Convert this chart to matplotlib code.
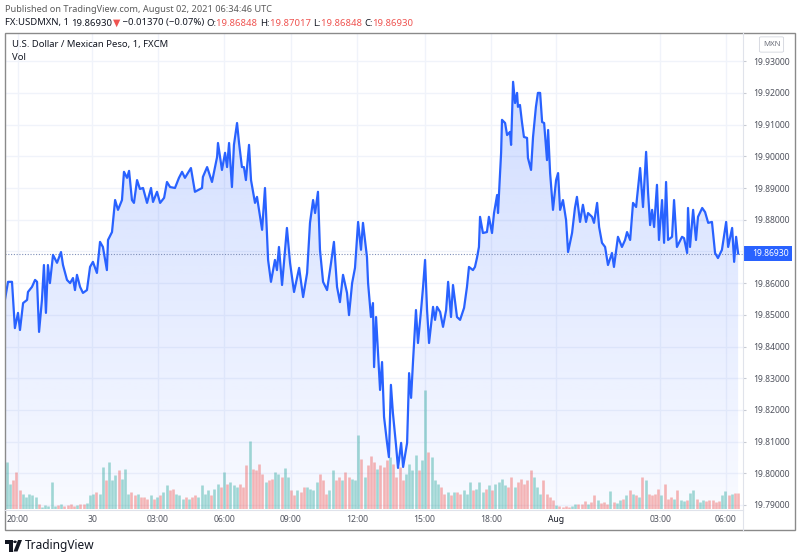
import numpy as np
import matplotlib
matplotlib.use("Agg")
import matplotlib.pyplot as plt
from matplotlib.patches import Rectangle, Polygon, Circle, FancyBboxPatch
from matplotlib.transforms import blended_transform_factory, Affine2D

plt.rcParams['font.family'] = ['Noto Sans', 'DejaVu Sans']

# ---------------- data ----------------
# position along the bar-indexed time axis (units of ~1 trading hour, 0 = 20:00 Jul 29)
t_pos = [-0.59,-0.45,-0.27,-0.14,0.00,0.09,0.23,0.41,0.45,0.63,0.77,0.86,0.95,1.08,1.17,1.26,1.35,1.44,1.58,1.76,
         1.94,2.03,2.21,2.35,2.48,2.57,2.66,2.80,2.93,3.11,3.25,3.38,3.56,3.70,3.83,4.01,4.06,4.24,4.38,4.51,
         4.69,4.78,4.92,5.01,5.14,5.23,5.37,5.50,5.64,5.82,6.00,6.09,6.27,6.41,6.59,6.72,6.86,7.08,7.26,
         7.40,7.53,7.80,7.98,8.30,8.34,8.53,8.75,8.98,9.02,9.20,9.34,9.43,9.52,9.65,9.74,9.88,9.97,10.10,10.19,
         10.28,10.42,10.51,10.69,10.78,10.92,11.01,11.14,11.28,11.41,11.59,11.68,11.77,11.91,12.13,12.27,12.45,12.68,12.86,13.04,
         13.17,13.31,13.40,13.53,13.62,13.76,13.94,14.12,14.25,14.39,14.52,14.66,14.84,14.93,
         15.07,15.20,15.34,15.47,15.56,15.74,15.79,15.92,16.01,16.06,16.15,16.33,16.42,16.51,16.64,16.73,16.82,16.91,17.05,17.14,
         17.28,17.37,17.55,17.64,17.73,17.82,17.95,18.04,18.18,18.27,18.36,18.45,18.54,18.72,18.81,18.90,19.04,19.17,19.31,19.40,
         19.53,19.62,19.80,19.94,20.12,20.25,20.34,20.52,20.61,20.70,20.79,
         20.84,20.97,21.15,21.24,21.38,21.47,21.61,21.65,21.79,21.83,21.97,22.06,22.19,22.24,22.33,22.42,22.51,22.55,22.64,22.73,
         22.82,22.96,23.00,23.14,23.23,23.36,23.45,23.55,23.64,23.73,23.86,23.91,24.00,24.13,24.27,24.36,24.45,24.58,24.72,24.81,
         24.99,25.12,25.21,25.35,25.48,25.62,25.71,25.89,25.98,26.12,26.21,26.34,26.48,26.61,26.79,26.88,27.06,27.24,27.38,27.47,
         27.61,27.74,27.88,27.92,28.06,28.19,28.33,28.42,28.51,28.60,28.69,28.82,28.91,29.05,29.14,29.23,29.32,29.50,29.59,29.72,
         29.95,30.04,30.18,30.22,30.31,30.45,30.58,30.67,30.86,30.99,31.13,31.30,31.44,31.57,31.75,31.94,32.03,32.21,32.30,32.39,32.48]

price = [19.8547,19.8604,19.8604,19.8458,19.8506,19.8452,19.8537,19.8547,19.8572,19.8588,19.8610,19.8604,19.8446,19.8547,19.8657,
         19.8506,19.8657,19.8600,19.8689,19.8664,19.8698,19.8657,19.8610,19.8600,19.8616,19.8578,19.8626,19.8588,19.8569,19.8578,
         19.8651,19.8667,19.8632,19.8730,19.8714,19.8641,19.8736,19.8761,19.8862,19.8831,19.8862,19.8951,19.8932,19.8954,19.8862,
         19.8853,19.8925,19.8897,19.8900,19.8853,19.8900,19.8856,19.8888,19.8853,19.8869,19.8919,19.8903,19.8900,19.8932,
         19.8951,19.8932,19.8963,19.8888,19.8900,19.8935,19.8966,19.8919,19.8998,19.9042,19.8957,19.9011,19.8966,19.9042,19.8903,
         19.9036,19.9105,19.9042,19.8966,19.8966,19.8925,19.9036,19.8925,19.8853,19.8872,19.8809,19.8768,19.8900,19.8673,19.8604,
         19.8673,19.8641,19.8714,19.8594,19.8774,19.8664,19.8572,19.8648,19.8556,19.8632,19.8790,19.8862,19.8821,19.8888,19.8705,
         19.8604,19.8578,19.8664,19.8730,19.8588,19.8540,19.8626,19.8569,19.8499,
         19.8600,19.8648,19.8793,19.8705,19.8790,19.8682,19.8600,19.8493,19.8537,19.8335,19.8493,19.8263,19.8351,19.8178,19.8099,
         19.8051,19.8279,19.8190,19.8089,19.8017,19.8096,19.8020,19.8096,19.8316,19.8238,19.8357,19.8515,19.8411,19.8515,19.8588,
         19.8673,19.8515,19.8411,19.8525,19.8484,19.8525,19.8509,19.8462,19.8515,19.8604,19.8493,19.8594,19.8493,19.8484,19.8522,
         19.8588,19.8651,19.8641,19.8651,19.8679,19.8714,
         19.8809,19.8758,19.8761,19.8809,19.8758,19.8821,19.8878,19.8821,19.9011,19.9115,19.9105,19.9067,19.9077,19.9036,19.9235,
         19.9168,19.9200,19.9156,19.9162,19.9108,19.9061,19.9058,19.8995,19.8957,19.9061,19.9156,19.9200,19.9200,19.9108,19.9105,
         19.8988,19.9083,19.8947,19.8831,19.8925,19.8947,19.8831,19.8862,19.8799,19.8698,19.8758,19.8837,19.8872,19.8793,19.8847,
         19.8793,19.8821,19.8809,19.8790,19.8853,19.8777,19.8727,19.8714,19.8657,19.8695,19.8651,19.8746,19.8714,19.8736,19.8761,
         19.8736,19.8853,19.8840,19.8869,19.8963,19.8840,19.9014,19.8884,19.8783,19.8831,19.8777,19.8910,19.8736,19.8862,19.8727,
         19.8919,19.8736,19.8746,19.8862,19.8714,19.8746,19.8742,19.8695,19.8837,19.8714,19.8831,19.8736,19.8809,19.8837,19.8824,
         19.8790,19.8793,19.8695,19.8679,19.8705,19.8793,19.8714,19.8774,19.8667,19.8746,19.8693]

# volume (relative units), evenly spaced bars from the start to the end of the session
volume = [47,25,29,37,19,15,12,15,14,12,5,2,4,3,27,3,4,5,3,4,5,3,4,5,5,6,14,15,17,15,42,29,47,29,34,39,30,40,15,17,
          14,15,12,12,10,14,10,12,14,17,24,19,20,15,14,10,12,10,12,14,12,24,15,19,14,20,25,22,37,25,27,24,22,25,22,44,
          68,40,39,45,35,27,29,30,37,35,32,41,32,19,14,19,17,22,22,20,19,27,35,29,15,19,39,29,32,29,37,32,30,29,74,50,
          32,44,53,47,40,44,
          42,49,52,45,32,42,29,35,45,39,54,39,49,119,57,52,29,25,22,15,17,14,17,17,15,19,15,27,19,20,27,17,20,24,19,25,
          27,30,24,22,32,22,27,30,25,29,39,32,22,15,29,15,12,9,4,3,2,3,2,3,5,5,5,8,5,7,14,9,6,7,5,18,7,6,9,10,14,19,15,
          14,12,32,29,15,14,15,20,14,25,10,12,10,19,9,8,9,16,19,10,7,9,8,9,9,7,8,14,18,14,15,16,16]

price_ticks = [19.93, 19.92, 19.91, 19.90, 19.89, 19.88, 19.87, 19.86, 19.85, 19.84, 19.83, 19.82, 19.81, 19.80, 19.79]
time_tick_pos = [0, 3.35, 6.31, 9.31, 12.31, 15.30, 18.34, 21.32, 24.25, 28.96, 31.92]
time_tick_labels = ['20:00', '30', '03:00', '06:00', '09:00', '12:00', '15:00', '18:00', 'Aug', '03:00', '06:00']
last_price = 19.86930

header1 = "Published on TradingView.com, August 02, 2021 06:34:46 UTC"
symbol_title = "U.S. Dollar / Mexican Peso, 1, FXCM"

# ---------------- layout ----------------
W, H = 800, 558
fig = plt.figure(figsize=(W / 100, H / 100), dpi=100)
fig.patch.set_facecolor('white')

def fx(x):
    return x / W

def fy(y):
    return 1 - y / H

L, R, T, B = 5, 743, 33, 509
ax = fig.add_axes([fx(L), fy(B), (R - L) / W, (B - T) / H])
ax.set_facecolor('white')

t = np.array(t_pos)
p = np.array(price)
vol = np.array(volume, dtype=float)

xmin, xmax = -0.586, 32.70
ymin = 19.79 - 4 / 3170
ymax = 19.79 + (505 - 33) / 3170
ax.set_xlim(xmin, xmax)
ax.set_ylim(ymin, ymax)
ax.autoscale(False)

# grid
for yv in price_ticks:
    ax.axhline(yv, color='#f0f3fa', lw=1.0, zorder=0.5)
for xv in time_tick_pos:
    ax.axvline(xv, color='#f0f3fa', lw=1.0, zorder=0.5)

# gradient area fill below the line
verts = np.vstack([np.column_stack([t, p]), [[t[-1], ymin], [t[0], ymin]]])
poly = Polygon(verts, closed=True, facecolor='none', edgecolor='none', transform=ax.transData)
ax.add_patch(poly)
n = 256
grad = np.zeros((n, 1, 4))
grad[:, 0, 0] = 41 / 255
grad[:, 0, 1] = 98 / 255
grad[:, 0, 2] = 255 / 255
grad[:, 0, 3] = np.linspace(0.03, 0.24, n)
im = ax.imshow(grad, extent=[xmin, xmax, ymin, ymax], origin='lower', aspect='auto', zorder=1,
               interpolation='bilinear')
im.set_clip_path(poly)

# volume bars
vmax_lim = vol.max() * 4.0
vtrans = blended_transform_factory(ax.transData, Affine2D().scale(1, 1 / vmax_lim) + ax.transAxes)
vx = np.linspace(-0.5, 32.48, len(vol))
dx = vx[1] - vx[0]
p_now = np.interp(vx, t, p)
p_prev = np.interp(vx - dx, t, p)
up = p_now >= p_prev
cols = np.where(up, '#26a69a', '#ef5350')
ax.vlines(vx, 0, vol, colors=cols, linewidth=1.9, alpha=0.42, transform=vtrans, zorder=2)

# last price dotted line
ax.axhline(last_price, color='#7f8fb8', lw=0.8, ls=(0, (1, 1.5)), zorder=2.5)

# price line
ax.plot(t, p, color='#2962ff', lw=1.6, zorder=3, solid_joinstyle='round')

# axes styling
for s in ax.spines.values():
    s.set_visible(False)
ax.yaxis.tick_right()
ax.set_yticks(price_ticks)
ax.set_yticklabels([f"{v:.5f}" for v in price_ticks])
ax.tick_params(axis='y', length=2.5, width=0.8, color='#c8cbd3', pad=5, labelsize=6.2, labelcolor='#50535e')
ax.set_xticks(time_tick_pos)
ax.set_xticklabels(time_tick_labels)
ax.tick_params(axis='x', length=0, pad=4.5, labelsize=6.2, labelcolor='#50535e')
for lab in ax.get_xticklabels():
    if lab.get_text() == 'Aug':
        lab.set_fontweight('bold')
        lab.set_color('#131722')

# separators and frame
fig.add_artist(plt.Line2D([fx(R), fx(R)], [fy(33), fy(530)], color='#e0e3eb', lw=0.8))
fig.add_artist(plt.Line2D([fx(5), fx(R)], [fy(510), fy(510)], color='#e0e3eb', lw=0.8))
fig.add_artist(Rectangle((fx(5), fy(530)), (795 - 5) / W, (530 - 33) / H, transform=fig.transFigure,
                         facecolor='none', edgecolor='#8a8a8a', lw=1.0))

# current price label
ybox = 253.5
fig.add_artist(Rectangle((fx(R), fy(ybox + 7.5)), (792 - R) / W, 15 / H, transform=fig.transFigure,
                         facecolor='#2962ff', edgecolor='none'))
fig.text(fx(752), fy(ybox), f"{last_price:.5f}", color='white', fontsize=6.2, va='center', ha='left')

# MXN label
fig.add_artist(FancyBboxPatch((fx(761), fy(51)), 21 / W, 13 / H, boxstyle='round,pad=0.002',
                              transform=fig.transFigure, facecolor='white', edgecolor='#d1d4dc', lw=0.6))
fig.text(fx(771.5), fy(44.5), 'MXN', color='#6a6d78', fontsize=5.6, ha='center', va='center')

# header texts
fig.text(fx(5), fy(9), header1, color='#5a5a5a', fontsize=6.6, va='center', ha='left')

pieces = [("FX:USDMXN, 1 ", 'bold', '#131722'),
          ("19.86930", 'normal', '#131722'),
          ("\u25bc", 'normal', '#ef5350'),
          (" \u22120.01370 (\u22120.07%) ", 'normal', '#131722'),
          ("O:", 'bold', '#131722'), ("19.86848 ", 'normal', '#ef5350'),
          ("H:", 'bold', '#131722'), ("19.87017 ", 'normal', '#ef5350'),
          ("L:", 'bold', '#131722'), ("19.86848 ", 'normal', '#ef5350'),
          ("C:", 'bold', '#131722'), ("19.86930", 'normal', '#ef5350')]
renderer = fig.canvas.get_renderer()
xcur = fx(5)
for txt, wgt, col in pieces:
    tt = fig.text(xcur, fy(23), txt, color=col, fontsize=6.85, fontweight=wgt, va='center', ha='left')
    bb = tt.get_window_extent(renderer=renderer)
    xcur += bb.width / W

fig.text(fx(12), fy(44), symbol_title, color='#131722', fontsize=6.85, fontweight='bold', va='center', ha='left')
fig.text(fx(12), fy(57), 'Vol', color='#131722', fontsize=6.85, va='center', ha='left')

# TradingView logo
lc = '#131722'
fig.add_artist(Rectangle((fx(5), fy(543.5)), 7.5 / W, 3.5 / H, transform=fig.transFigure, facecolor=lc, edgecolor='none'))
fig.add_artist(Rectangle((fx(9), fy(551.5)), 3.5 / W, 11.5 / H, transform=fig.transFigure, facecolor=lc, edgecolor='none'))
fig.add_artist(Circle((fx(15), fy(541.8)), 1.8 / W, transform=fig.transFigure, facecolor=lc, edgecolor='none'))
fig.add_artist(Polygon([(fx(13.5), fy(551.5)), (fx(17.5), fy(551.5)), (fx(22), fy(540)), (fx(18), fy(540))],
                       closed=True, transform=fig.transFigure, facecolor=lc, edgecolor='none'))
fig.text(fx(25), fy(546), 'TradingView', color=lc, fontsize=8.6, fontweight='bold', va='center', ha='left')

fig.savefig('out.png', dpi=100, facecolor='white')
